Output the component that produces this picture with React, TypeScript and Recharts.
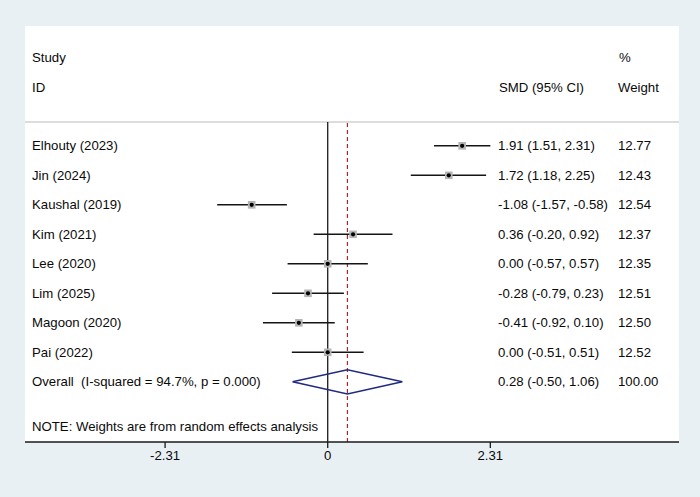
import React from 'react';
import {
  ComposedChart,
  Scatter,
  XAxis,
  YAxis,
  ErrorBar,
  ReferenceLine,
  Customized,
} from 'recharts';

// Study-level standardized mean differences (random effects)
const studies = [
  'Elhouty (2023)',
  'Jin (2024)',
  'Kaushal (2019)',
  'Kim (2021)',
  'Lee (2020)',
  'Lim (2025)',
  'Magoon (2020)',
  'Pai (2022)',
];
const smd = [1.91, 1.72, -1.08, 0.36, 0.0, -0.28, -0.41, 0.0];
const ciLow = [1.51, 1.18, -1.57, -0.2, -0.57, -0.79, -0.92, -0.51];
const ciHigh = [2.31, 2.25, -0.58, 0.92, 0.57, 0.23, 0.1, 0.51];
const weights = [12.77, 12.43, 12.54, 12.37, 12.35, 12.51, 12.5, 12.52];

// Pooled estimate
const overallLabel = 'Overall  (I-squared = 94.7%, p = 0.000)';
const overallSmd = 0.28;
const overallLow = -0.5;
const overallHigh = 1.06;
const overallWeight = 100.0;

const noteText = 'NOTE: Weights are from random effects analysis';
const xTicks = [-2.31, 0, 2.31];

const W = 700;
const H = 497;
const FONT = '"Liberation Sans", Arial, Helvetica, sans-serif';
const TEXT = '#0a0a0a';
const FS = 13.2;
const overallRow = studies.length;
const noteRow = overallRow + 1.5;
const diamondHalf = 0.41;

const fmt = (v: number) => v.toFixed(2);

const studyData = studies.map((name, i) => ({
  name,
  x: smd[i],
  y: i,
  weight: weights[i],
  err: [smd[i] - ciLow[i], ciHigh[i] - smd[i]],
}));

const diamondData = [
  { x: overallLow, y: overallRow },
  { x: overallSmd, y: overallRow - diamondHalf },
  { x: overallHigh, y: overallRow },
  { x: overallSmd, y: overallRow + diamondHalf },
  { x: overallLow, y: overallRow },
];

// One text row per study, plus the pooled row and the footnote
const rowData = [
  ...studies.map((name, i) => ({
    x: 0,
    y: i,
    id: name,
    est: `${fmt(smd[i])} (${fmt(ciLow[i])}, ${fmt(ciHigh[i])})`,
    wt: fmt(weights[i]),
  })),
  {
    x: 0,
    y: overallRow,
    id: overallLabel,
    est: `${fmt(overallSmd)} (${fmt(overallLow)}, ${fmt(overallHigh)})`,
    wt: fmt(overallWeight),
  },
  { x: 0, y: noteRow, id: noteText, est: '', wt: '' },
];

const textStyle: React.CSSProperties = { whiteSpace: 'pre' };

const RowText = (props: any) => {
  const { cy, payload } = props;
  if (cy == null) return <g />;
  const ty = cy + 4.6;
  return (
    <g fontFamily={FONT} fontSize={FS} fill={TEXT}>
      <text x={32} y={ty} style={textStyle}>{payload.id}</text>
      {payload.est && <text x={498} y={ty} style={textStyle}>{payload.est}</text>}
      {payload.wt && <text x={618} y={ty} style={textStyle}>{payload.wt}</text>}
    </g>
  );
};

const StudyMarker = (props: any) => {
  const { cx, cy, payload } = props;
  if (cx == null || cy == null) return <g />;
  const side = Math.sqrt(payload.weight) * 2.15;
  return (
    <g>
      <rect x={cx - side / 2} y={cy - side / 2} width={side} height={side} fill="#b5b5b5" />
      <circle cx={cx} cy={cy} r={2.1} fill="#000" />
    </g>
  );
};

const Header = () => (
  <g fontFamily={FONT} fontSize={FS} fill={TEXT}>
    <text x={32} y={62}>Study</text>
    <text x={32} y={92}>ID</text>
    <text x={619} y={62}>%</text>
    <text x={499} y={92}>SMD (95% CI)</text>
    <text x={618} y={92}>Weight</text>
  </g>
);

export default function App() {
  return (
    <div
      style={{
        position: 'absolute',
        left: 0,
        top: 0,
        width: W,
        height: H,
        background: '#e9f0f3',
      }}
    >
      <div
        style={{
          position: 'absolute',
          left: 25,
          top: 26,
          width: 654,
          height: 416,
          background: '#ffffff',
        }}
      />
      <div style={{ position: 'absolute', left: 0, top: 0 }}>
        <ComposedChart
          width={W}
          height={H}
          margin={{ top: 122, right: 21, bottom: 25, left: 25 }}
        >
          <XAxis
            type="number"
            dataKey="x"
            domain={[-4.3, 4.99]}
            allowDataOverflow
            ticks={xTicks}
            interval={0}
            tickFormatter={(v: number) => (v === 0 ? '0' : fmt(v))}
            height={30}
            tickSize={6}
            tickMargin={3}
            axisLine={{ stroke: '#1a1a1a', strokeWidth: 1.3 }}
            tickLine={{ stroke: '#1a1a1a', strokeWidth: 1.3 }}
            tick={{ fill: TEXT, fontSize: FS, fontFamily: FONT }}
          />
          <YAxis
            type="number"
            dataKey="y"
            reversed
            domain={[-0.807, 10.04]}
            allowDataOverflow
            hide
          />
          <ReferenceLine y={-0.807} stroke="#d2d2d2" strokeWidth={1.5} ifOverflow="visible" />
          <ReferenceLine x={0} stroke="#1a1a1a" strokeWidth={1.3} />
          <ReferenceLine
            x={overallSmd}
            stroke="#a8282a"
            strokeWidth={1.2}
            strokeDasharray="4 3"
          />
          <Scatter
            data={rowData}
            shape={<RowText />}
            isAnimationActive={false}
          />
          <Scatter
            data={studyData}
            shape={<StudyMarker />}
            isAnimationActive={false}
          >
            <ErrorBar
              dataKey="err"
              direction="x"
              width={0}
              stroke="#151515"
              strokeWidth={1.6}
              isAnimationActive={false}
            />
          </Scatter>
          <Scatter
            data={diamondData}
            line={{ stroke: '#1f2a80', strokeWidth: 1.6 }}
            lineType="joint"
            shape={() => <g />}
            isAnimationActive={false}
          />
          <Customized component={Header} />
        </ComposedChart>
      </div>
    </div>
  );
}
